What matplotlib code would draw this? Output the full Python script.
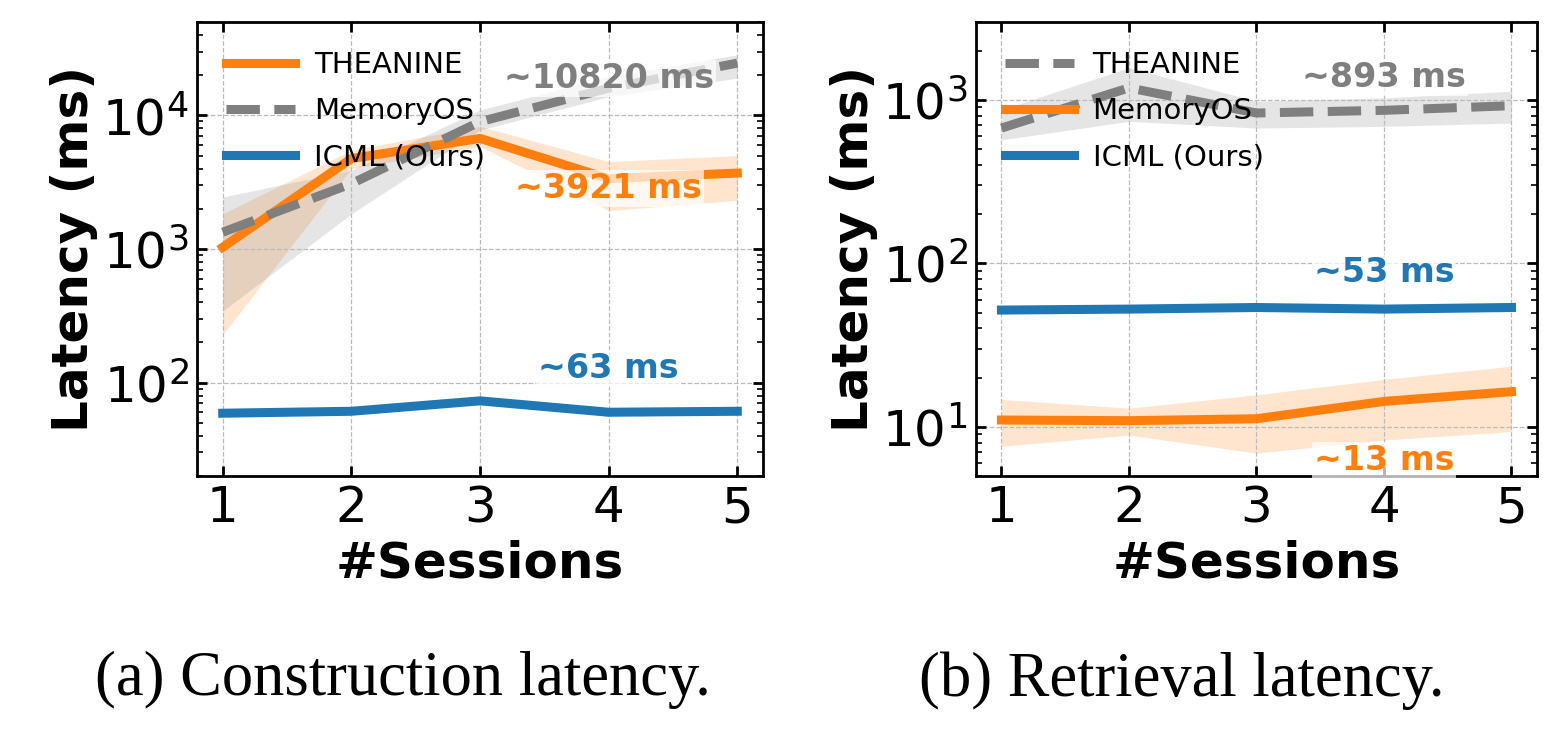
import matplotlib
matplotlib.use("Agg")
import matplotlib.pyplot as plt
import numpy as np

sessions = [1, 2, 3, 4, 5]

# (a) Construction latency
a_theanine = [1030, 4750, 6720, 3360, 3700]
a_theanine_lo = [229, 4000, 5850, 1940, 2310]
a_theanine_hi = [1830, 5500, 8270, 4510, 5000]
a_memoryos = [1335, 3080, 8960, 15960, 24600]
a_memoryos_lo = [344, 1830, 7760, 13800, 19000]
a_memoryos_hi = [2450, 3880, 10960, 19500, 28400]
a_icml = [59, 61, 73, 60, 61]

# (b) Retrieval latency
b_theanine = [673, 1185, 832, 864, 922]
b_theanine_lo = [570, 740, 673, 689, 722]
b_theanine_hi = [871, 1574, 982, 1030, 1130]
b_memoryos = [11.0, 10.9, 11.2, 14.3, 16.4]
b_memoryos_lo = [7.6, 8.9, 6.9, 8.3, 9.35]
b_memoryos_hi = [14.7, 13.0, 15.7, 19.5, 23.5]
b_icml = [51.8, 52.5, 53.7, 52.5, 53.7]

ORANGE = "#ff7f0e"
GRAY = "#7f7f7f"
BLUE = "#1f77b4"

fig = plt.figure(figsize=(15.61, 7.42), dpi=100)
axA = fig.add_axes([0.1262, 0.3585, 0.3626, 0.6119])
axB = fig.add_axes([0.6252, 0.3585, 0.3594, 0.6119])

LW = 6.5
bbox = dict(facecolor="white", alpha=0.7, edgecolor="none", pad=1.5)

def style(ax, ylim):
    ax.set_yscale("log")
    ax.set_xlim(0.8, 5.2)
    ax.set_ylim(*ylim)
    ax.set_xticks(sessions)
    ax.tick_params(axis="both", which="both", direction="in", top=True, right=True)
    ax.tick_params(axis="both", which="major", labelsize=36, length=7, width=2, pad=6)
    ax.tick_params(axis="y", which="minor", length=4, width=1.2)
    ax.grid(True, which="major", linestyle="--", color="#bbbbbb", linewidth=0.9)
    for s in ax.spines.values():
        s.set_linewidth(2)
    ax.set_xlabel("#Sessions", fontsize=36, fontweight="bold", labelpad=5)
    ax.set_ylabel("Latency (ms)", fontsize=36, fontweight="bold", labelpad=3)
    ax.legend(loc="upper left", frameon=False, fontsize=21, handlelength=2.35,
              handletextpad=0.65, borderaxespad=0.6, labelspacing=0.62)

# Panel (a)
axA.fill_between(sessions, a_theanine_lo, a_theanine_hi, color=ORANGE, alpha=0.2, linewidth=0)
axA.fill_between(sessions, a_memoryos_lo, a_memoryos_hi, color=GRAY, alpha=0.2, linewidth=0)
axA.plot(sessions, a_theanine, color=ORANGE, lw=LW, label="THEANINE")
axA.plot(sessions, a_memoryos, color=GRAY, lw=LW, ls="--", label="MemoryOS")
axA.plot(sessions, a_icml, color=BLUE, lw=LW, label="ICML (Ours)")
style(axA, (20, 5e4))
axA.text(4.0, 19000, "~10820 ms", color=GRAY, fontsize=24, fontweight="bold",
         ha="center", va="center", bbox=bbox, zorder=10)
axA.text(4.0, 2820, "~3921 ms", color=ORANGE, fontsize=24, fontweight="bold",
         ha="center", va="center", bbox=bbox, zorder=10)
axA.text(4.0, 128, "~63 ms", color=BLUE, fontsize=24, fontweight="bold",
         ha="center", va="center", bbox=bbox, zorder=10)

# Panel (b)
axB.fill_between(sessions, b_theanine_lo, b_theanine_hi, color=GRAY, alpha=0.2, linewidth=0)
axB.fill_between(sessions, b_memoryos_lo, b_memoryos_hi, color=ORANGE, alpha=0.2, linewidth=0)
axB.plot(sessions, b_theanine, color=GRAY, lw=LW, ls="--", label="THEANINE")
axB.plot(sessions, b_memoryos, color=ORANGE, lw=LW, label="MemoryOS")
axB.plot(sessions, b_icml, color=BLUE, lw=LW, label="ICML (Ours)")
style(axB, (5, 3000))
axB.text(4.0, 1365, "~893 ms", color=GRAY, fontsize=24, fontweight="bold",
         ha="center", va="center", bbox=bbox, zorder=10)
axB.text(4.0, 88, "~53 ms", color=BLUE, fontsize=24, fontweight="bold",
         ha="center", va="center", bbox=bbox, zorder=10)
axB.text(4.0, 6.2, "~13 ms", color=ORANGE, fontsize=24, fontweight="bold",
         ha="center", va="center", bbox=bbox, zorder=10)

fig.text(0.258, 0.083, "(a) Construction latency.", family="Liberation Serif",
         fontsize=45, ha="center", va="center")
fig.text(0.757, 0.083, "(b) Retrieval latency.", family="Liberation Serif",
         fontsize=45, ha="center", va="center")

fig.savefig("out.png", dpi=100)
